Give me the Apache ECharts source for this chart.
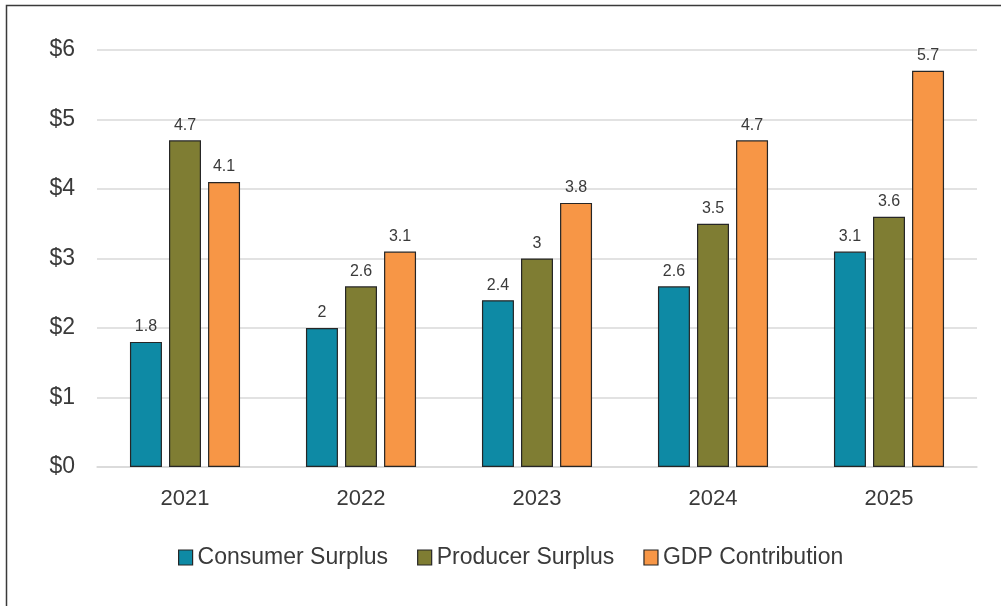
<!DOCTYPE html>
<html>
<head>
<meta charset="utf-8">
<script src="https://cdn.jsdelivr.net/npm/echarts@6/dist/echarts.min.js"></script>
<style>
  html, body { margin: 0; padding: 0; background: #ffffff; }
  #chart { width: 1001px; height: 606px; }
</style>
</head>
<body>
<div id="chart"></div>
<script>
const years = ['2021', '2022', '2023', '2024', '2025'];
const consumerSurplus = [1.8, 2, 2.4, 2.6, 3.1];
const producerSurplus = [4.7, 2.6, 3, 3.5, 3.6];
const gdpContribution = [4.1, 3.1, 3.8, 4.7, 5.7];
const yTicks = [0, 1, 2, 3, 4, 5, 6];

const FONT = 'Liberation Sans';
const TEXT = '#3a3a3a';

function barSeries(name, data, color) {
  return {
    name: name,
    type: 'bar',
    data: data,
    barWidth: 32,
    barGap: '22%',
    itemStyle: { color: color, borderColor: '#262626', borderWidth: 1.2 },
    label: {
      show: true,
      position: 'top',
      distance: 7,
      color: TEXT,
      fontFamily: FONT,
      fontSize: 16
    }
  };
}

const chart = echarts.init(document.getElementById('chart'), null, { renderer: 'canvas' });
chart.setOption({
  animation: false,
  backgroundColor: '#ffffff',
  textStyle: { fontFamily: FONT },
  graphic: [{
    type: 'rect',
    shape: { x: 6.5, y: 5.5, width: 1100, height: 700 },
    style: { fill: 'none', stroke: '#3a3a3a', lineWidth: 1.5 },
    silent: true
  }],
  grid: { left: 97, right: 24, top: 50, bottom: 139, containLabel: false },
  legend: {
    data: ['Consumer Surplus', 'Producer Surplus', 'GDP Contribution'],
    left: 178,
    top: 546,
    padding: 0,
    itemWidth: 14,
    itemHeight: 15,
    itemGap: 29,
    icon: 'rect',
    itemStyle: { borderColor: '#262626', borderWidth: 1.2 },
    textStyle: { color: TEXT, fontFamily: FONT, fontSize: 23, padding: [0, 0, 0, 0] }
  },
  xAxis: {
    type: 'category',
    data: years,
    axisLine: { show: true, lineStyle: { color: '#d9d9d9', width: 1.5 } },
    axisTick: { show: false },
    axisLabel: { color: TEXT, fontFamily: FONT, fontSize: 22, margin: 21 }
  },
  yAxis: {
    type: 'value',
    min: yTicks[0],
    max: yTicks[yTicks.length - 1],
    interval: 1,
    axisLine: { show: false },
    axisTick: { show: false },
    splitLine: { lineStyle: { color: '#d9d9d9', width: 1.5 } },
    axisLabel: {
      color: TEXT,
      fontFamily: FONT,
      fontSize: 23,
      margin: 22,
      formatter: v => '$' + v
    }
  },
  series: [
    barSeries('Consumer Surplus', consumerSurplus, '#0e8aa5'),
    barSeries('Producer Surplus', producerSurplus, '#7f7d33'),
    barSeries('GDP Contribution', gdpContribution, '#f79646')
  ]
});
</script>
</body>
</html>
